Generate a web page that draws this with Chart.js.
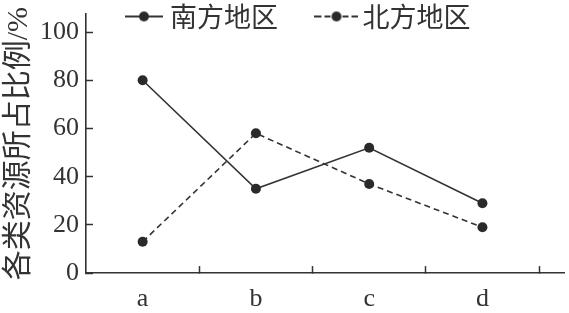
<!DOCTYPE html>
<html>
<head>
<meta charset="utf-8">
<script src="https://cdn.jsdelivr.net/npm/chart.js@4/dist/chart.umd.min.js"></script>
<style>
  html, body { margin: 0; padding: 0; background: #ffffff; }
  canvas { display: block; }
</style>
</head>
<body>
<canvas id="c" width="569" height="313"></canvas>
<script>
// ---- data ----
const categories = ['a', 'b', 'c', 'd'];
const southValues = [80, 35, 52, 29];   // 南方地区
const northValues = [13, 58, 37, 19];   // 北方地区
const seriesNames = ['南方地区', '北方地区'];
const yTickValues = [0, 20, 40, 60, 80, 100];
const yTitle = '各类资源所占比例/%';

const ink = '#333333';
const dotInk = '#2a2a2a';

// legend symbols: line with a dot
function makeSymbol(dashed) {
  const c = document.createElement('canvas');
  c.width = dashed ? 44 : 38; c.height = 12;
  const g = c.getContext('2d');
  g.strokeStyle = ink; g.lineWidth = 2;
  g.beginPath();
  if (dashed) {
    [[0, 7], [10, 16], [28, 34], [37, 44]].forEach(s => { g.moveTo(s[0], 6); g.lineTo(s[1], 6); });
  } else {
    g.moveTo(0, 6); g.lineTo(c.width, 6);
  }
  g.stroke();
  g.fillStyle = dotInk;
  g.beginPath(); g.arc(c.width / 2, 6, 5, 0, Math.PI * 2); g.fill();
  return c;
}
const symbols = [makeSymbol(false), makeSymbol(true)];

const toPoints = vals => categories.map((_, i) => ({ x: i + 0.5, y: vals[i] }));
const xTickValues = [];
categories.forEach((_, i) => { xTickValues.push(i + 0.5, i + 1); });

const legendPad = 46;
const legendPlace = {
  id: 'legendPlace',
  afterLayout(chart) {
    const lg = chart.legend;
    if (!lg) return;
    lg.left = chart.chartArea.left - 0.5;
    lg.right = chart.width;
    lg.top = 16.5 - legendPad - 13.5;
    lg.bottom = lg.top + legendPad + 40;
    lg.height = lg.bottom - lg.top;
    lg.width = lg.right - lg.left;
  }
};

new Chart(document.getElementById('c'), {
  type: 'line',
  data: {
    datasets: [
      {
        label: seriesNames[0],
        data: toPoints(southValues),
        borderColor: ink, borderWidth: 1.6,
        pointRadius: 5, pointBackgroundColor: dotInk, pointBorderColor: dotInk, pointBorderWidth: 0,
        tension: 0, fill: false
      },
      {
        label: seriesNames[1],
        data: toPoints(northValues),
        borderColor: ink, borderWidth: 1.6, borderDash: [6, 4],
        pointRadius: 5, pointBackgroundColor: dotInk, pointBorderColor: dotInk, pointBorderWidth: 0,
        tension: 0, fill: false
      }
    ]
  },
  plugins: [legendPlace],
  options: {
    responsive: false,
    devicePixelRatio: 1,
    animation: false,
    layout: { padding: { top: 13, right: 4, bottom: -19, left: 0 } },
    plugins: {
      tooltip: { enabled: false },
      legend: {
        display: true,
        position: 'top',
        align: 'start',
        maxHeight: 1,
        labels: {
          usePointStyle: true,
          pointStyleWidth: 25,
          padding: legendPad,
          color: ink,
          font: { family: '"Noto Sans CJK SC"', size: 27 },
          generateLabels(chart) {
            const items = Chart.defaults.plugins.legend.labels.generateLabels(chart);
            items.forEach((it, i) => { it.pointStyle = symbols[i]; });
            return items;
          }
        }
      }
    },
    scales: {
      x: {
        type: 'linear',
        min: 0,
        max: 4.22,
        afterBuildTicks(scale) { scale.ticks = xTickValues.map(v => ({ value: v })); },
        ticks: {
          autoSkip: false, maxRotation: 0, minRotation: 0,
          padding: 18,
          color: ink,
          font: { family: '"Liberation Serif"', size: 26, lineHeight: 1.15 },
          callback(v) { return (v % 1 !== 0) ? categories[Math.floor(v)] : ''; }
        },
        grid: {
          drawOnChartArea: false,
          tickLength: -7,
          tickWidth: 1.5,
          tickColor: ctx => (ctx.tick && ctx.tick.value % 1 === 0) ? ink : 'rgba(0,0,0,0)'
        },
        border: { color: ink, width: 1.6 }
      },
      y: {
        min: 0,
        max: 107.5,
        afterBuildTicks(scale) { scale.ticks = yTickValues.map(v => ({ value: v })); },
        ticks: {
          padding: 14,
          color: ink,
          font: { family: '"Liberation Serif"', size: 26, lineHeight: 0 },
          callback(v) { return String(v); }
        },
        grid: {
          drawOnChartArea: false,
          tickLength: -7,
          tickWidth: 1.5,
          tickColor: ink
        },
        border: { color: ink, width: 1.6 },
        title: {
          display: true,
          text: yTitle,
          color: ink,
          font: { family: '"Liberation Serif", "Noto Sans CJK SC"', size: 30 },
          padding: { top: 1.5, bottom: -11.5 }
        }
      }
    }
  }
});
</script>
</body>
</html>
